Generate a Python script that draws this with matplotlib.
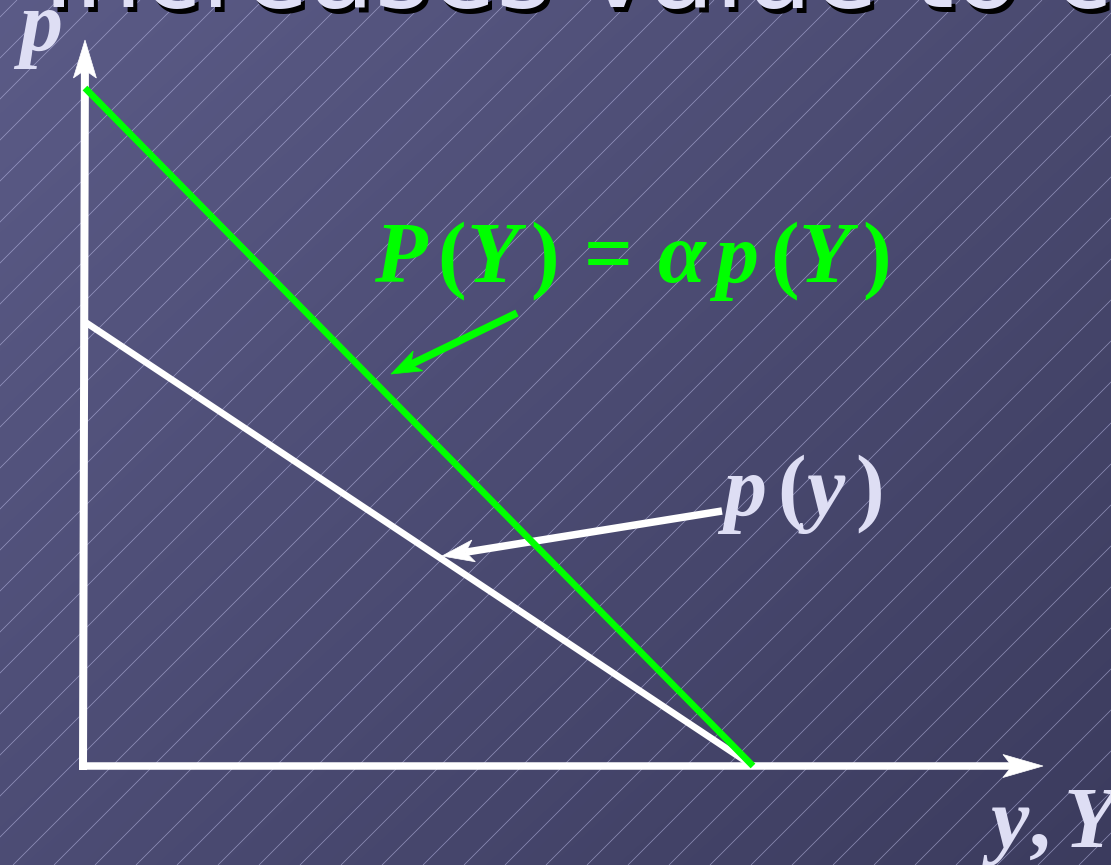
import numpy as np
import matplotlib
matplotlib.use("Agg")
import matplotlib.pyplot as plt
from matplotlib.collections import LineCollection
from matplotlib.patches import Polygon

# ---- data: demand curve p(y) and scaled curve P(Y) = alpha * p(Y) ----
quantity = [0.0, 1.0]          # y, Y (quantity axis)
price_p = [0.655, 0.0]         # p(y)
price_P = [1.0, 0.0]           # P(Y) = alpha * p(Y)

title_text = "Increases value to consumers"
label_axis_p = r"$p$"
label_axis_q = r"$y,Y$"
label_P = r"$P\,(Y\,)\,=\,\alpha\,p\,(Y\,)$"
label_p = r"$p\,(y\,)$"

W, H = 1111, 865
LAVENDER = "#dedef4"
GREEN = "#00ff00"

plt.rcParams.update({
    "mathtext.fontset": "custom",
    "mathtext.it": "Liberation Serif:italic:bold",
    "mathtext.rm": "Liberation Serif:bold",
    "mathtext.bf": "Liberation Serif:bold",
    "mathtext.default": "it",
})

fig = plt.figure(figsize=(W / 100, H / 100), dpi=100)

# background axes in pixel units (y downwards)
bg = fig.add_axes([0, 0, 1, 1])
bg.set_xlim(0, W)
bg.set_ylim(H, 0)
bg.axis("off")

# slide gradient
xx, yy = np.meshgrid(np.arange(W), np.arange(H))
r = 90.9 - 0.01517 * xx - 0.01683 * yy
b = 134.8 - 0.02047 * xx - 0.0210 * yy
img = np.dstack([r, r, b]) / 255.0
bg.imshow(np.clip(img, 0, 1), extent=(0, W, H, 0), aspect="auto",
          interpolation="bilinear", zorder=0)

# diagonal pinstripes
segs = []
for c in range(17, W + H + 41, 41):
    segs.append([(c, 0), (c - H, H)])
bg.add_collection(LineCollection(segs, colors=[(0.78, 0.78, 0.95)],
                                 linewidths=0.55, alpha=0.55, zorder=1))

# slide heading (runs off the top edge), with drop shadow
bg.text(43 + 4, 7 + 5, title_text, fontsize=77, family="DejaVu Sans",
        color="black", ha="left", va="baseline", zorder=2)
bg.text(43, 7, title_text, fontsize=77, family="DejaVu Sans",
        color="#e0e0f6", ha="left", va="baseline", zorder=3)


def arrow(ax, tail, tip, color, shaft_px, head_len, head_half, notch, z):
    tail = np.asarray(tail, float)
    tip = np.asarray(tip, float)
    u = (tip - tail) / np.hypot(*(tip - tail))
    v = np.array([-u[1], u[0]])
    back = tip - head_len * u
    notch_pt = tip - (head_len - notch) * u
    ax.plot([tail[0], notch_pt[0] + 0.5 * u[0]], [tail[1], notch_pt[1] + 0.5 * u[1]],
            color=color, lw=shaft_px * 0.72, solid_capstyle="butt", zorder=z)
    head = Polygon([tip, back + head_half * v, notch_pt, back - head_half * v],
                   closed=True, facecolor=color, edgecolor=color, lw=0.5, zorder=z)
    ax.add_patch(head)


# coordinate axes
arrow(bg, (83, 770), (85, 40), "white", 8, 38, 11.5, 8, 4)
arrow(bg, (79, 766), (1043, 766), "white", 7.5, 40, 11.5, 9, 4)

# pointers to the curves
arrow(bg, (517, 313), (391, 374), GREEN, 7.5, 30, 11, 8, 5)
arrow(bg, (722, 511), (442, 556), "white", 7.5, 32, 11, 8, 5)

# labels
bg.text(13, 50, label_axis_p, fontsize=62, color=LAVENDER,
        ha="left", va="baseline", zorder=6)
bg.text(982, 847, label_axis_q, fontsize=62, color=LAVENDER,
        ha="left", va="baseline", zorder=6)
bg.text(632, 261, label_P, fontsize=62, color=GREEN,
        ha="center", va="center", zorder=6)
bg.text(800, 494, label_p, fontsize=62, color=LAVENDER,
        ha="center", va="center", zorder=6)

# data axes aligned with the drawn coordinate axes
ax = fig.add_axes([0, 0, 1, 1], zorder=2)
ax.patch.set_alpha(0)
ax.axis("off")
x0_px, x1_px = 85, 753
y0_px, y1_px = 766, 88
sx = x1_px - x0_px
sy = y0_px - y1_px
ax.set_xlim(-x0_px / sx, (W - x0_px) / sx)
ax.set_ylim(-(H - y0_px) / sy, y0_px / sy)

ax.plot(quantity, price_p, color="white", lw=4.8, solid_capstyle="butt")
ax.plot(quantity, price_P, color=GREEN, lw=4.8, solid_capstyle="butt")

fig.savefig("out.png", dpi=100)
